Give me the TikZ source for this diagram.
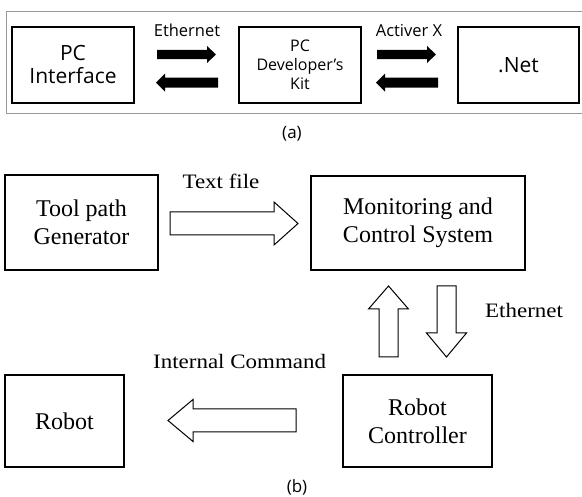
\documentclass[tikz,border=0pt]{standalone}
\usepackage{fontspec}
\setmainfont{Liberation Serif}
\newfontfamily\asans{Open Sans}
\newfontfamily\serifw[FakeStretch=1.12]{Liberation Serif}
% horizontal block arrow: tail x, tip x, y, shaft half, head half, head length (signed)
\newcommand\blkH[6]{({#1},{#3-(#4)}) -- ({#2-(#6)},{#3-(#4)}) -- ({#2-(#6)},{#3-(#5)}) -- ({#2},{#3}) -- ({#2-(#6)},{#3+(#5)}) -- ({#2-(#6)},{#3+(#4)}) -- ({#1},{#3+(#4)}) -- cycle}
% vertical block arrow: x, tail y, tip y, shaft half, head half, head length (signed)
\newcommand\blkV[6]{({#1-(#4)},{#2}) -- ({#1-(#4)},{#3-(#6)}) -- ({#1-(#5)},{#3-(#6)}) -- ({#1},{#3}) -- ({#1+(#5)},{#3-(#6)}) -- ({#1+(#4)},{#3-(#6)}) -- ({#1+(#4)},{#2}) -- cycle}
\begin{document}
\begin{tikzpicture}[x=1pt,y=-1pt,
  abox/.style={draw, line width=1.1pt, inner sep=0pt, align=center},
  bbox/.style={draw, line width=1.2pt, inner sep=0pt, align=center,
    font=\fontsize{24}{28}\selectfont},
  alabel/.style={inner sep=0pt, anchor=base, font=\asans\fontsize{16.5}{19}\selectfont},
  blabel/.style={inner sep=0pt, anchor=base, font=\serifw\fontsize{20.5}{24}\selectfont},
  hollow/.style={draw, line width=1pt, fill=white},
  sublabel/.style={inner sep=0pt, anchor=base, font=\asans\fontsize{17}{20}\selectfont},
]
\useasboundingbox (0,0) rectangle (582,497);
% ---------- (a) ----------
\draw[gray!80, line width=1pt] (582,12) -- (6,12) -- (6,114) -- (582,114);
\node[abox, minimum width=122pt, minimum height=76pt, font=\asans\fontsize{21}{23}\selectfont] (pci) at (73,65) {PC\\Interface};
\node[abox, minimum width=122pt, minimum height=76pt, font=\asans\fontsize{16}{19}\selectfont] (pdk) at (300,65) {PC\\Developer’s\\Kit};
\node[abox, minimum width=121pt, minimum height=76pt, font=\asans\fontsize{21}{23}\selectfont] (net) at (518.5,65) {.Net};
\node[alabel] (eth1) at (187,37) {Ethernet};
\node[alabel] (actx) at (409,37) {Activer X};
\fill \blkH{157}{216}{54.5}{4.7}{8.5}{9};
\fill \blkH{218}{156}{82.7}{5}{9}{-9};
\fill \blkH{377}{436}{54.5}{4.7}{8.5}{9};
\fill \blkH{438}{376}{82.7}{5}{9}{-9};
\node[sublabel] (la) at (292,139) {(a)};
% ---------- (b) ----------
\node[bbox, minimum width=153pt, minimum height=95pt] (tpg) at (81.5,222.5) {Tool path\\Generator};
\node[bbox, minimum width=214pt, minimum height=94pt] (mcs) at (418,223) {Monitoring and\\Control System};
\node[bbox, minimum width=149pt, minimum height=92pt] (rc) at (417.5,421) {Robot\\Controller};
\node[bbox, minimum width=119pt, minimum height=92pt] (rob) at (64.5,421) {Robot};
\node[blabel] (tf) at (221,189) {Text file};
\node[blabel, anchor=base west] (eth2) at (485,318) {Ethernet};
\node[blabel, anchor=base west] (ic) at (153,369) {Internal Command};
\draw[hollow] \blkH{170}{298}{223.5}{11.5}{21.5}{24};
\draw[hollow] \blkV{388.5}{357}{286}{9.5}{20}{-23};
\draw[hollow] \blkV{446.5}{286}{357}{9.5}{20}{24};
\draw[hollow] \blkH{296}{168}{420.5}{11.5}{21}{-25};
\node[sublabel] (lb) at (297,493) {(b)};
\end{tikzpicture}
\end{document}
